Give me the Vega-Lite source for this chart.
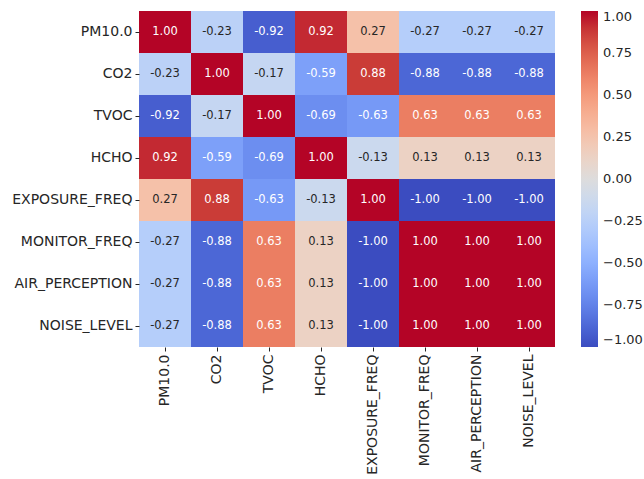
{
  "$schema": "https://vega.github.io/schema/vega-lite/v6.json",
  "width": 416,
  "height": 336,
  "padding": {"left": 11, "top": 11, "right": 0, "bottom": 5},
  "background": "white",
  "config": {
    "view": {"stroke": null},
    "font": "DejaVu Sans",
    "locale": {"number": {"decimal": ".", "thousands": ",", "grouping": [3], "currency": ["$", ""], "minus": "-"}}
  },
  "data": {
    "values": [
      {"row": "PM10.0", "col": "PM10.0", "v": 1.00},
      {"row": "PM10.0", "col": "CO2", "v": -0.23},
      {"row": "PM10.0", "col": "TVOC", "v": -0.92},
      {"row": "PM10.0", "col": "HCHO", "v": 0.92},
      {"row": "PM10.0", "col": "EXPOSURE_FREQ", "v": 0.27},
      {"row": "PM10.0", "col": "MONITOR_FREQ", "v": -0.27},
      {"row": "PM10.0", "col": "AIR_PERCEPTION", "v": -0.27},
      {"row": "PM10.0", "col": "NOISE_LEVEL", "v": -0.27},
      {"row": "CO2", "col": "PM10.0", "v": -0.23},
      {"row": "CO2", "col": "CO2", "v": 1.00},
      {"row": "CO2", "col": "TVOC", "v": -0.17},
      {"row": "CO2", "col": "HCHO", "v": -0.59},
      {"row": "CO2", "col": "EXPOSURE_FREQ", "v": 0.88},
      {"row": "CO2", "col": "MONITOR_FREQ", "v": -0.88},
      {"row": "CO2", "col": "AIR_PERCEPTION", "v": -0.88},
      {"row": "CO2", "col": "NOISE_LEVEL", "v": -0.88},
      {"row": "TVOC", "col": "PM10.0", "v": -0.92},
      {"row": "TVOC", "col": "CO2", "v": -0.17},
      {"row": "TVOC", "col": "TVOC", "v": 1.00},
      {"row": "TVOC", "col": "HCHO", "v": -0.69},
      {"row": "TVOC", "col": "EXPOSURE_FREQ", "v": -0.63},
      {"row": "TVOC", "col": "MONITOR_FREQ", "v": 0.63},
      {"row": "TVOC", "col": "AIR_PERCEPTION", "v": 0.63},
      {"row": "TVOC", "col": "NOISE_LEVEL", "v": 0.63},
      {"row": "HCHO", "col": "PM10.0", "v": 0.92},
      {"row": "HCHO", "col": "CO2", "v": -0.59},
      {"row": "HCHO", "col": "TVOC", "v": -0.69},
      {"row": "HCHO", "col": "HCHO", "v": 1.00},
      {"row": "HCHO", "col": "EXPOSURE_FREQ", "v": -0.13},
      {"row": "HCHO", "col": "MONITOR_FREQ", "v": 0.13},
      {"row": "HCHO", "col": "AIR_PERCEPTION", "v": 0.13},
      {"row": "HCHO", "col": "NOISE_LEVEL", "v": 0.13},
      {"row": "EXPOSURE_FREQ", "col": "PM10.0", "v": 0.27},
      {"row": "EXPOSURE_FREQ", "col": "CO2", "v": 0.88},
      {"row": "EXPOSURE_FREQ", "col": "TVOC", "v": -0.63},
      {"row": "EXPOSURE_FREQ", "col": "HCHO", "v": -0.13},
      {"row": "EXPOSURE_FREQ", "col": "EXPOSURE_FREQ", "v": 1.00},
      {"row": "EXPOSURE_FREQ", "col": "MONITOR_FREQ", "v": -1.00},
      {"row": "EXPOSURE_FREQ", "col": "AIR_PERCEPTION", "v": -1.00},
      {"row": "EXPOSURE_FREQ", "col": "NOISE_LEVEL", "v": -1.00},
      {"row": "MONITOR_FREQ", "col": "PM10.0", "v": -0.27},
      {"row": "MONITOR_FREQ", "col": "CO2", "v": -0.88},
      {"row": "MONITOR_FREQ", "col": "TVOC", "v": 0.63},
      {"row": "MONITOR_FREQ", "col": "HCHO", "v": 0.13},
      {"row": "MONITOR_FREQ", "col": "EXPOSURE_FREQ", "v": -1.00},
      {"row": "MONITOR_FREQ", "col": "MONITOR_FREQ", "v": 1.00},
      {"row": "MONITOR_FREQ", "col": "AIR_PERCEPTION", "v": 1.00},
      {"row": "MONITOR_FREQ", "col": "NOISE_LEVEL", "v": 1.00},
      {"row": "AIR_PERCEPTION", "col": "PM10.0", "v": -0.27},
      {"row": "AIR_PERCEPTION", "col": "CO2", "v": -0.88},
      {"row": "AIR_PERCEPTION", "col": "TVOC", "v": 0.63},
      {"row": "AIR_PERCEPTION", "col": "HCHO", "v": 0.13},
      {"row": "AIR_PERCEPTION", "col": "EXPOSURE_FREQ", "v": -1.00},
      {"row": "AIR_PERCEPTION", "col": "MONITOR_FREQ", "v": 1.00},
      {"row": "AIR_PERCEPTION", "col": "AIR_PERCEPTION", "v": 1.00},
      {"row": "AIR_PERCEPTION", "col": "NOISE_LEVEL", "v": 1.00},
      {"row": "NOISE_LEVEL", "col": "PM10.0", "v": -0.27},
      {"row": "NOISE_LEVEL", "col": "CO2", "v": -0.88},
      {"row": "NOISE_LEVEL", "col": "TVOC", "v": 0.63},
      {"row": "NOISE_LEVEL", "col": "HCHO", "v": 0.13},
      {"row": "NOISE_LEVEL", "col": "EXPOSURE_FREQ", "v": -1.00},
      {"row": "NOISE_LEVEL", "col": "MONITOR_FREQ", "v": 1.00},
      {"row": "NOISE_LEVEL", "col": "AIR_PERCEPTION", "v": 1.00},
      {"row": "NOISE_LEVEL", "col": "NOISE_LEVEL", "v": 1.00}
    ]
  },
  "encoding": {
    "x": {
      "field": "col", "type": "nominal",
      "sort": ["PM10.0","CO2","TVOC","HCHO","EXPOSURE_FREQ","MONITOR_FREQ","AIR_PERCEPTION","NOISE_LEVEL"],
      "scale": {"paddingInner": 0, "paddingOuter": 0},
      "axis": {
        "title": null, "domain": false, "labelAngle": -90, "labelAlign": "right", "labelBaseline": "middle",
        "labelFontSize": 14, "labelColor": "#262626", "tickColor": "#262626", "tickSize": 4, "tickWidth": 1, "labelPadding": 3
      }
    },
    "y": {
      "field": "row", "type": "nominal",
      "sort": ["PM10.0","CO2","TVOC","HCHO","EXPOSURE_FREQ","MONITOR_FREQ","AIR_PERCEPTION","NOISE_LEVEL"],
      "scale": {"paddingInner": 0, "paddingOuter": 0},
      "axis": {
        "title": null, "domain": false,
        "labelFontSize": 14, "labelColor": "#262626", "tickColor": "#262626", "tickSize": 4, "tickWidth": 1, "labelPadding": 3
      }
    }
  },
  "layer": [
    {
      "mark": {"type": "rect"},
      "encoding": {
        "color": {
          "field": "v", "type": "quantitative",
          "scale": {
            "domain": [-1,-0.875,-0.75,-0.625,-0.5,-0.375,-0.25,-0.125,0,0.125,0.25,0.375,0.5,0.625,0.75,0.875,1],
            "range": ["#3b4cc0","#4d68d7","#6282ea","#779af7","#8db0fe","#a3c2fe","#b8d0f9","#ccd9ee","#dddcdc","#ecd3c5","#f5c4ad","#f7b194","#f49a7b","#ec7f63","#dd604c","#cb3e38","#b40426"],
            "interpolate": "rgb"
          },
          "legend": {
            "title": null,
            "direction": "vertical",
            "gradientLength": 336,
            "gradientThickness": 17,
            "gradientStrokeWidth": 0,
            "offset": 26,
            "values": [-1,-0.75,-0.5,-0.25,0,0.25,0.5,0.75,1],
            "format": ".2f",
            "labelExpr": "replace(datum.label, '-', '\u2212')",
            "labelFontSize": 13,
            "labelColor": "#262626",
            "labelOffset": 5,
            "labelOverlap": false,
            "padding": 0
          }
        }
      }
    },
    {
      "mark": {"type": "text", "fontSize": 11.5},
      "encoding": {
        "text": {"field": "v", "type": "quantitative", "format": ".2f"},
        "color": {
          "condition": {"test": "abs(datum.v) > 0.5", "value": "#ffffff"},
          "value": "#262626"
        }
      }
    }
  ]
}
